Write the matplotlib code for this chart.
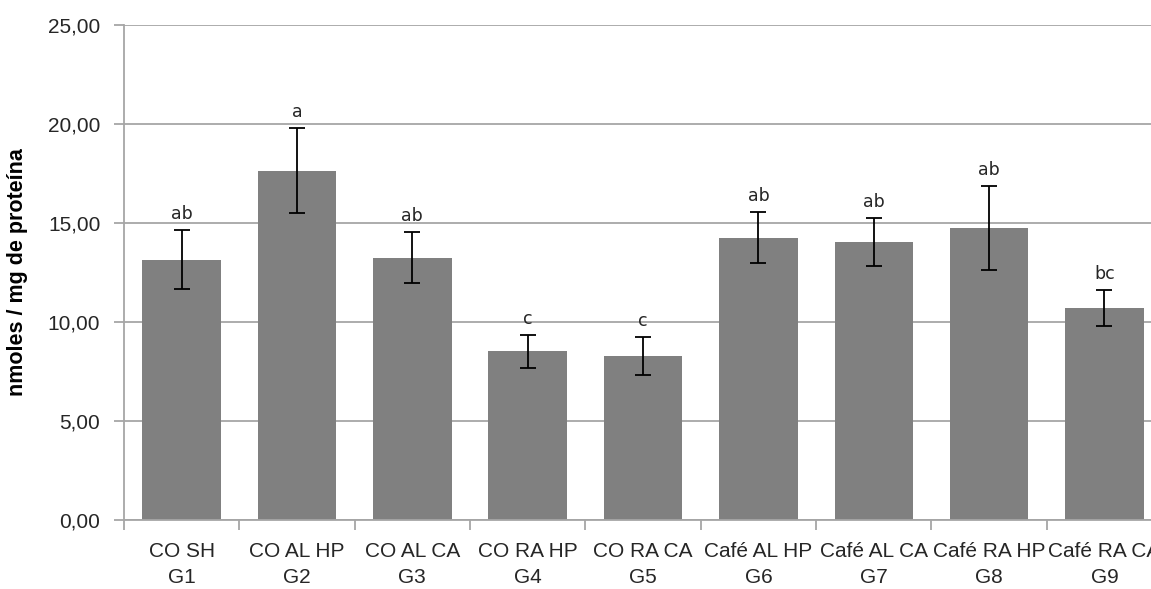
import numpy as np
import matplotlib
matplotlib.use("Agg")
import matplotlib.pyplot as plt

# data
groups = ["CO SH", "CO AL HP", "CO AL CA", "CO RA HP", "CO RA CA",
          "Café AL HP", "Café AL CA", "Café RA HP", "Café RA CA"]
codes = ["G1", "G2", "G3", "G4", "G5", "G6", "G7", "G8", "G9"]
means = [13.15, 17.65, 13.25, 8.52, 8.30, 14.26, 14.03, 14.75, 10.71]
errors = [1.50, 2.15, 1.30, 0.83, 0.96, 1.30, 1.21, 2.12, 0.90]
letters = ["ab", "a", "ab", "c", "c", "ab", "ab", "ab", "bc"]
yticks = [0, 5, 10, 15, 20, 25]

plt.rcParams['font.family'] = ['Liberation Sans', 'DejaVu Sans']

fig = plt.figure(figsize=(11.51, 5.89), dpi=100)
# the plot area runs past the right edge of the picture, as in the original
ax = fig.add_axes([0.1077, 0.117, 0.902, 0.8406])

x = np.arange(len(groups))
grid_col = "#a6a6a6"
text_col = "#262626"

ax.bar(x, means, width=0.68, color="#808080", zorder=2)
ax.errorbar(x, means, yerr=errors, fmt="none", ecolor="black",
            elinewidth=1.3, capsize=6, capthick=1.3, zorder=3)

for xi, m, e, lab in zip(x, means, errors, letters):
    ax.text(xi, m + e + 0.35, lab, ha="center", va="bottom",
            fontsize=12.5, color=text_col, family=['DejaVu Sans'])

ax.set_xlim(-0.5, len(groups) - 0.5)
ax.set_ylim(0, 25)
ax.set_yticks(yticks)
ax.set_yticklabels([f"{v:.2f}".replace(".", ",") for v in yticks],
                   fontsize=15, color=text_col)
ax.yaxis.grid(True, color=grid_col, linewidth=1.3, zorder=0)
ax.set_axisbelow(True)

# category boundaries carry the tick marks, labels sit at the centres
ax.set_xticks(np.arange(len(groups) + 1) - 0.5)
ax.set_xticklabels([])
ax.set_xticks(x, minor=True)
ax.set_xticklabels([f"{g}\n{c}" for g, c in zip(groups, codes)], minor=True,
                   fontsize=15, color=text_col, linespacing=1.45)
ax.tick_params(axis="x", which="major", length=7, color=grid_col, width=1.3)
ax.tick_params(axis="x", which="minor", length=0, pad=16)
ax.tick_params(axis="y", length=7, color=grid_col, width=1.3, pad=10)

for side in ["top", "right"]:
    ax.spines[side].set_visible(False)
for side in ["left", "bottom"]:
    ax.spines[side].set_color(grid_col)
    ax.spines[side].set_linewidth(1.3)

ax.set_ylabel("nmoles / mg de proteína", fontsize=15.5, fontweight="bold",
              color="black", labelpad=14)

fig.savefig("out.png", dpi=100)
